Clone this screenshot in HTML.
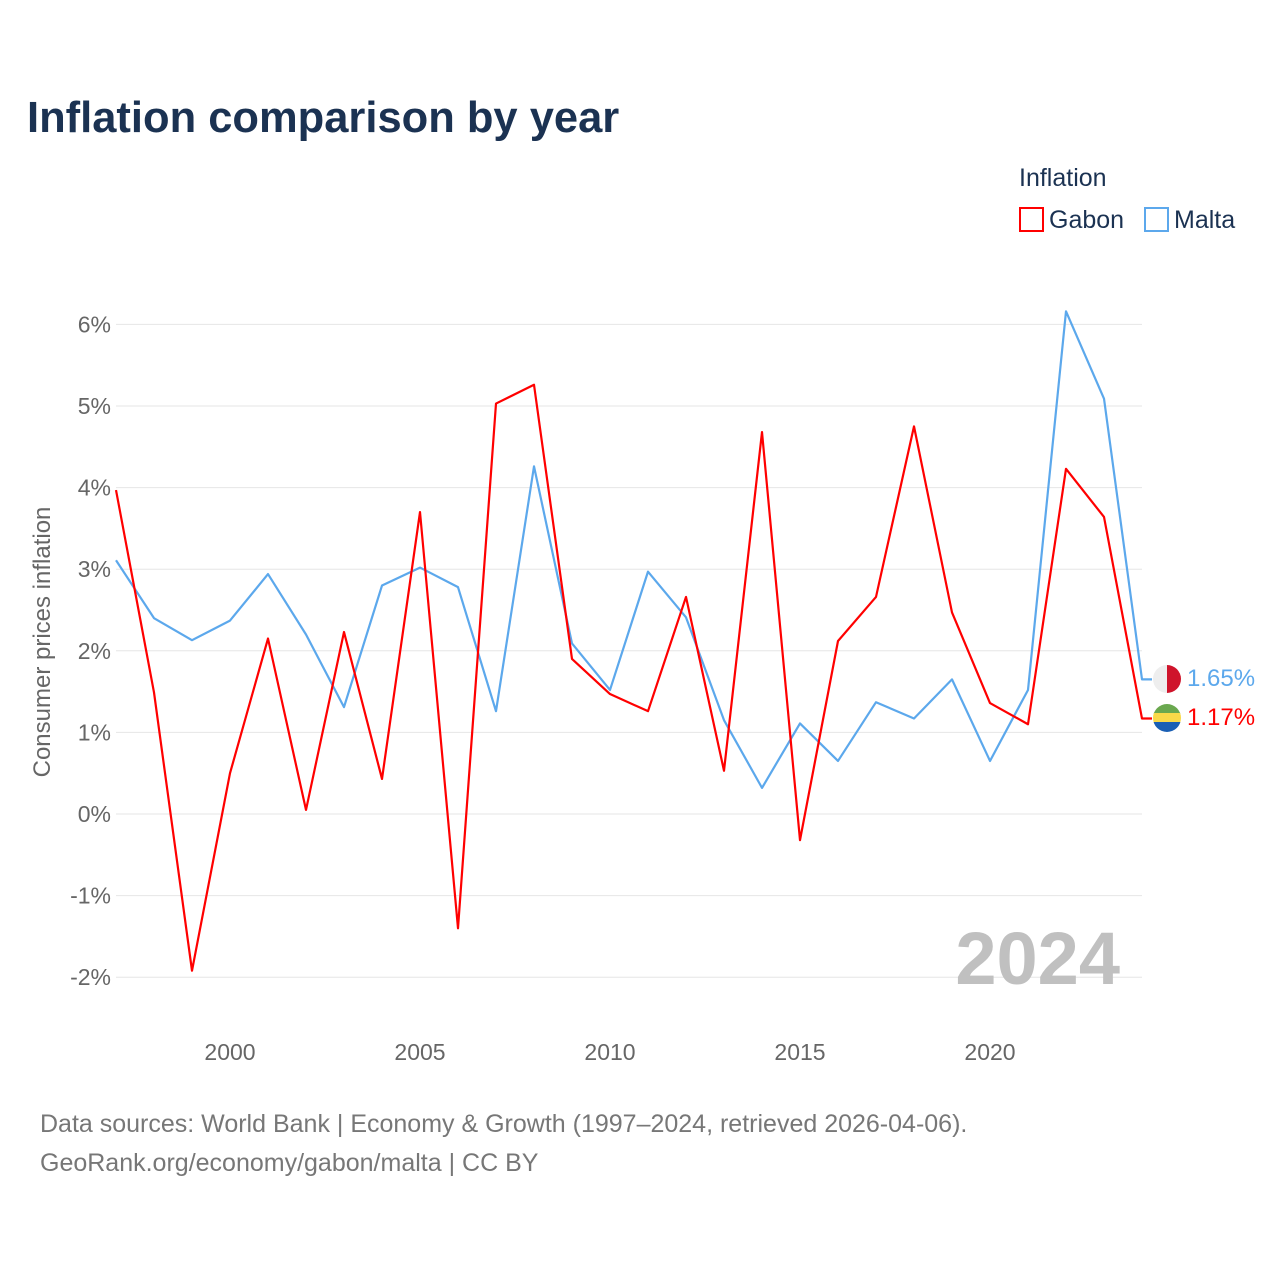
<!DOCTYPE html>
<html><head><meta charset="utf-8"><style>
body{margin:0;background:#fff;font-family:"Liberation Sans",sans-serif}
svg{display:block}
</style></head><body>
<svg width="1280" height="1280" viewBox="0 0 1280 1280" id="chart">
<text x="27" y="132" font-size="43.5" font-weight="bold" fill="#1b3252">Inflation comparison by year</text>
<g>
<text x="1019" y="186" font-size="25" fill="#1b3252">Inflation</text>
<g><rect x="1020" y="208" width="23" height="23" fill="none" stroke="#f00" stroke-width="2"/><text x="1049" y="228" font-size="25" fill="#1b3252">Gabon</text></g>
<g><rect x="1145" y="208" width="23" height="23" fill="none" stroke="#5ca8ec" stroke-width="2"/><text x="1174" y="228" font-size="25" fill="#1b3252">Malta</text></g>
</g>
<g id="grid"></g>
<g id="yticks"></g>
<g id="xticks"></g>
<text transform="translate(50,642) rotate(-90)" text-anchor="middle" font-size="24" fill="#666">Consumer prices inflation</text>
<text x="1120" y="984" text-anchor="end" font-size="74" font-weight="bold" fill="#c0c0c0">2024</text>
<g id="series"></g>
<g>
<g><clipPath id="c1"><circle cx="1167" cy="679" r="14"/></clipPath><g clip-path="url(#c1)"><rect x="1153" y="665" width="14" height="28" fill="#eee"/><rect x="1167" y="665" width="14" height="28" fill="#cf142b"/></g></g>
<g><clipPath id="c2"><circle cx="1167" cy="718" r="14"/></clipPath><g clip-path="url(#c2)"><rect x="1153" y="704" width="28" height="10" fill="#6aa84f"/><rect x="1153" y="713" width="28" height="10" fill="#f9d949"/><rect x="1153" y="722" width="28" height="10" fill="#1a5fb4"/></g></g>
<text x="1187" y="686" font-size="24" fill="#5ca8ec">1.65%</text>
<text x="1187" y="725" font-size="24" fill="#f00">1.17%</text>
</g>
<text x="40" y="1132" font-size="25" fill="#777">Data sources: World Bank | Economy &amp; Growth (1997–2024, retrieved 2026-04-06).</text>
<text x="40" y="1171" font-size="25" fill="#777">GeoRank.org/economy/gabon/malta | CC BY</text>
</svg>
<script>
const years=[1997,1998,1999,2000,2001,2002,2003,2004,2005,2006,2007,2008,2009,2010,2011,2012,2013,2014,2015,2016,2017,2018,2019,2020,2021,2022,2023,2024];
const gabon=[3.97,1.49,-1.92,0.50,2.15,0.05,2.23,0.43,3.70,-1.40,5.03,5.26,1.90,1.47,1.26,2.66,0.53,4.68,-0.32,2.12,2.66,4.75,2.47,1.36,1.10,4.23,3.64,1.17];
const malta=[3.11,2.40,2.13,2.37,2.94,2.20,1.31,2.80,3.02,2.78,1.26,4.26,2.09,1.52,2.97,2.41,1.15,0.32,1.11,0.65,1.37,1.17,1.65,0.65,1.52,6.16,5.09,1.65];
const yTicks=[-2,-1,0,1,2,3,4,5,6];
const xTicks=[2000,2005,2010,2015,2020];
const NS="http://www.w3.org/2000/svg";
const xs=y=>116+(y-1997)*38;
const ys=v=>814-v*81.6;
function mk(t,a,p){const e=document.createElementNS(NS,t);for(const k in a)e.setAttribute(k,a[k]);p.appendChild(e);return e;}
const grid=document.getElementById('grid'),yt=document.getElementById('yticks'),xt=document.getElementById('xticks'),se=document.getElementById('series');
yTicks.forEach(v=>{
 const l=mk('line',{x1:116,x2:1142,y1:ys(v),y2:ys(v),stroke:'#e6e6e6','stroke-width':1},grid);
 
 
 const t=mk('text',{x:111,y:ys(v)+8,'text-anchor':'end','font-size':23,fill:'#666'},yt);
 t.textContent=v+'%';
 
 
});
xTicks.forEach(v=>{
 const t=mk('text',{x:xs(v),y:1060,'text-anchor':'middle','font-size':23,fill:'#666'},xt);
 t.textContent=v;
 
 
});
function line(vals,col,name){
 let pts=vals.map((v,i)=>xs(years[i])+','+ys(v));
 pts.push((xs(years[years.length-1])+10)+','+ys(vals[vals.length-1]));
 const p=mk('polyline',{points:pts.join(' '),fill:'none',stroke:col,'stroke-width':2.2,'stroke-linejoin':'round'},se);
 
 
}
line(malta,'#5ca8ec','malta-line');
line(gabon,'#f00','gabon-line');
</script>
</body></html>
